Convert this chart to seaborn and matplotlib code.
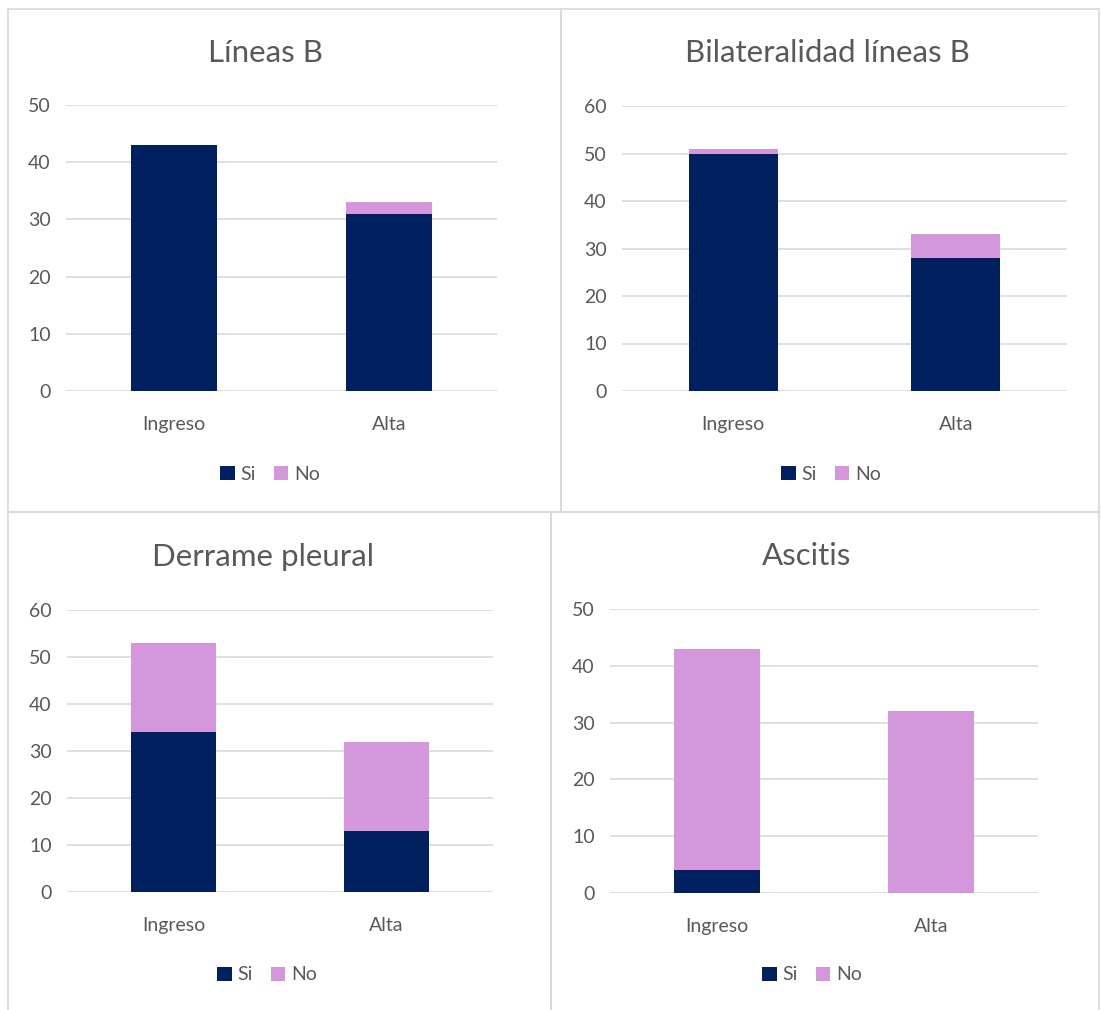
import matplotlib
matplotlib.use("Agg")
import matplotlib.pyplot as plt
from matplotlib.patches import Patch
import pandas as pd
import seaborn as sns

# Data: counts per group for each finding
groups = ["Ingreso", "Alta"]
series_names = ["Si", "No"]

titles = ["Líneas B", "Bilateralidad líneas B", "Derrame pleural", "Ascitis"]

lineas_si = [43, 31]
lineas_no = [0, 2]
bilat_si = [50, 28]
bilat_no = [1, 5]
derrame_si = [34, 13]
derrame_no = [19, 19]
ascitis_si = [4, 0]
ascitis_no = [39, 32]

y_max = [50, 60, 60, 50]
y_ticks = [[0, 10, 20, 30, 40, 50],
           [0, 10, 20, 30, 40, 50, 60],
           [0, 10, 20, 30, 40, 50, 60],
           [0, 10, 20, 30, 40, 50]]

panels = [
    (titles[0], lineas_si, lineas_no),
    (titles[1], bilat_si, bilat_no),
    (titles[2], derrame_si, derrame_no),
    (titles[3], ascitis_si, ascitis_no),
]

SI_COLOR = "#002060"
NO_COLOR = "#D597DB"
TEXT = "#595959"
GRID = "#D9D9D9"
BORDER = "#D9D9D9"

sns.set_theme(style="white")
plt.rcParams["font.family"] = ["Lato", "DejaVu Sans"]

W, H = 1101, 1010
fig = plt.figure(figsize=(W / 100, H / 100), dpi=100)

# layout in pixels: axes (x0, x1, y_top, y_zero), title centre, legend centre
layout = [
    dict(ax=(66, 497, 105, 391), title=(265, 53), legend=(270, 474)),
    dict(ax=(622, 1067, 106, 391), title=(827, 53), legend=(831, 474)),
    dict(ax=(67, 493, 610, 892), title=(263, 557), legend=(267, 975)),
    dict(ax=(610, 1038, 609, 893), title=(807, 556), legend=(812, 975)),
]

# chart frames
frames = [(8, 9, 561, 512), (561, 9, 1099, 512), (8, 512, 551, 1012), (551, 512, 1099, 1012)]
for x0, y0, x1, y1 in frames:
    fig.add_artist(plt.Rectangle((x0 / W, 1 - y1 / H), (x1 - x0) / W, (y1 - y0) / H,
                                 transform=fig.transFigure, fill=False,
                                 edgecolor=BORDER, linewidth=1.2, zorder=0))

for i, ((title, si, no), lay) in enumerate(zip(panels, layout)):
    x0, x1, yt, yb = lay["ax"]
    ax = fig.add_axes([x0 / W, 1 - yb / H, (x1 - x0) / W, (yb - yt) / H])
    df = pd.DataFrame({"grupo": groups, "Si": si, "No": no})
    df["total"] = df["Si"] + df["No"]
    # stacked bars: total drawn in the "No" colour, "Si" drawn over it from zero
    sns.barplot(data=df, x="grupo", y="total", color=NO_COLOR, width=0.4,
                saturation=1, linewidth=0, edgecolor="none", ax=ax, zorder=3)
    sns.barplot(data=df, x="grupo", y="Si", color=SI_COLOR, width=0.4,
                saturation=1, linewidth=0, edgecolor="none", ax=ax, zorder=4)
    ax.set_ylim(0, y_max[i])
    ax.set_yticks(y_ticks[i])
    ax.set_xlabel("")
    ax.set_ylabel("")
    for s in ax.spines.values():
        s.set_visible(False)
    ax.grid(False)
    for t in y_ticks[i]:
        ax.axhline(t, color=GRID, linewidth=1.2, zorder=1)
    ax.tick_params(axis="y", length=0, pad=11, labelsize=14, labelcolor=TEXT)
    ax.tick_params(axis="x", length=0, pad=18, labelsize=14, labelcolor=TEXT)
    ax.set_facecolor("none")

    tx, ty = lay["title"]
    fig.text(tx / W, 1 - ty / H, title, ha="center", va="center",
             fontsize=22.5, color=TEXT)

    lx, ly = lay["legend"]
    handles = [Patch(facecolor=SI_COLOR, edgecolor="none"),
               Patch(facecolor=NO_COLOR, edgecolor="none")]
    fig.legend(handles, series_names, loc="center", bbox_to_anchor=(lx / W, 1 - ly / H),
               ncol=2, frameon=False, fontsize=14, labelcolor=TEXT,
               handlelength=0.75, handleheight=0.75, handletextpad=0.3,
               columnspacing=0.9)

fig.savefig("out.png", dpi=100, facecolor="white")
